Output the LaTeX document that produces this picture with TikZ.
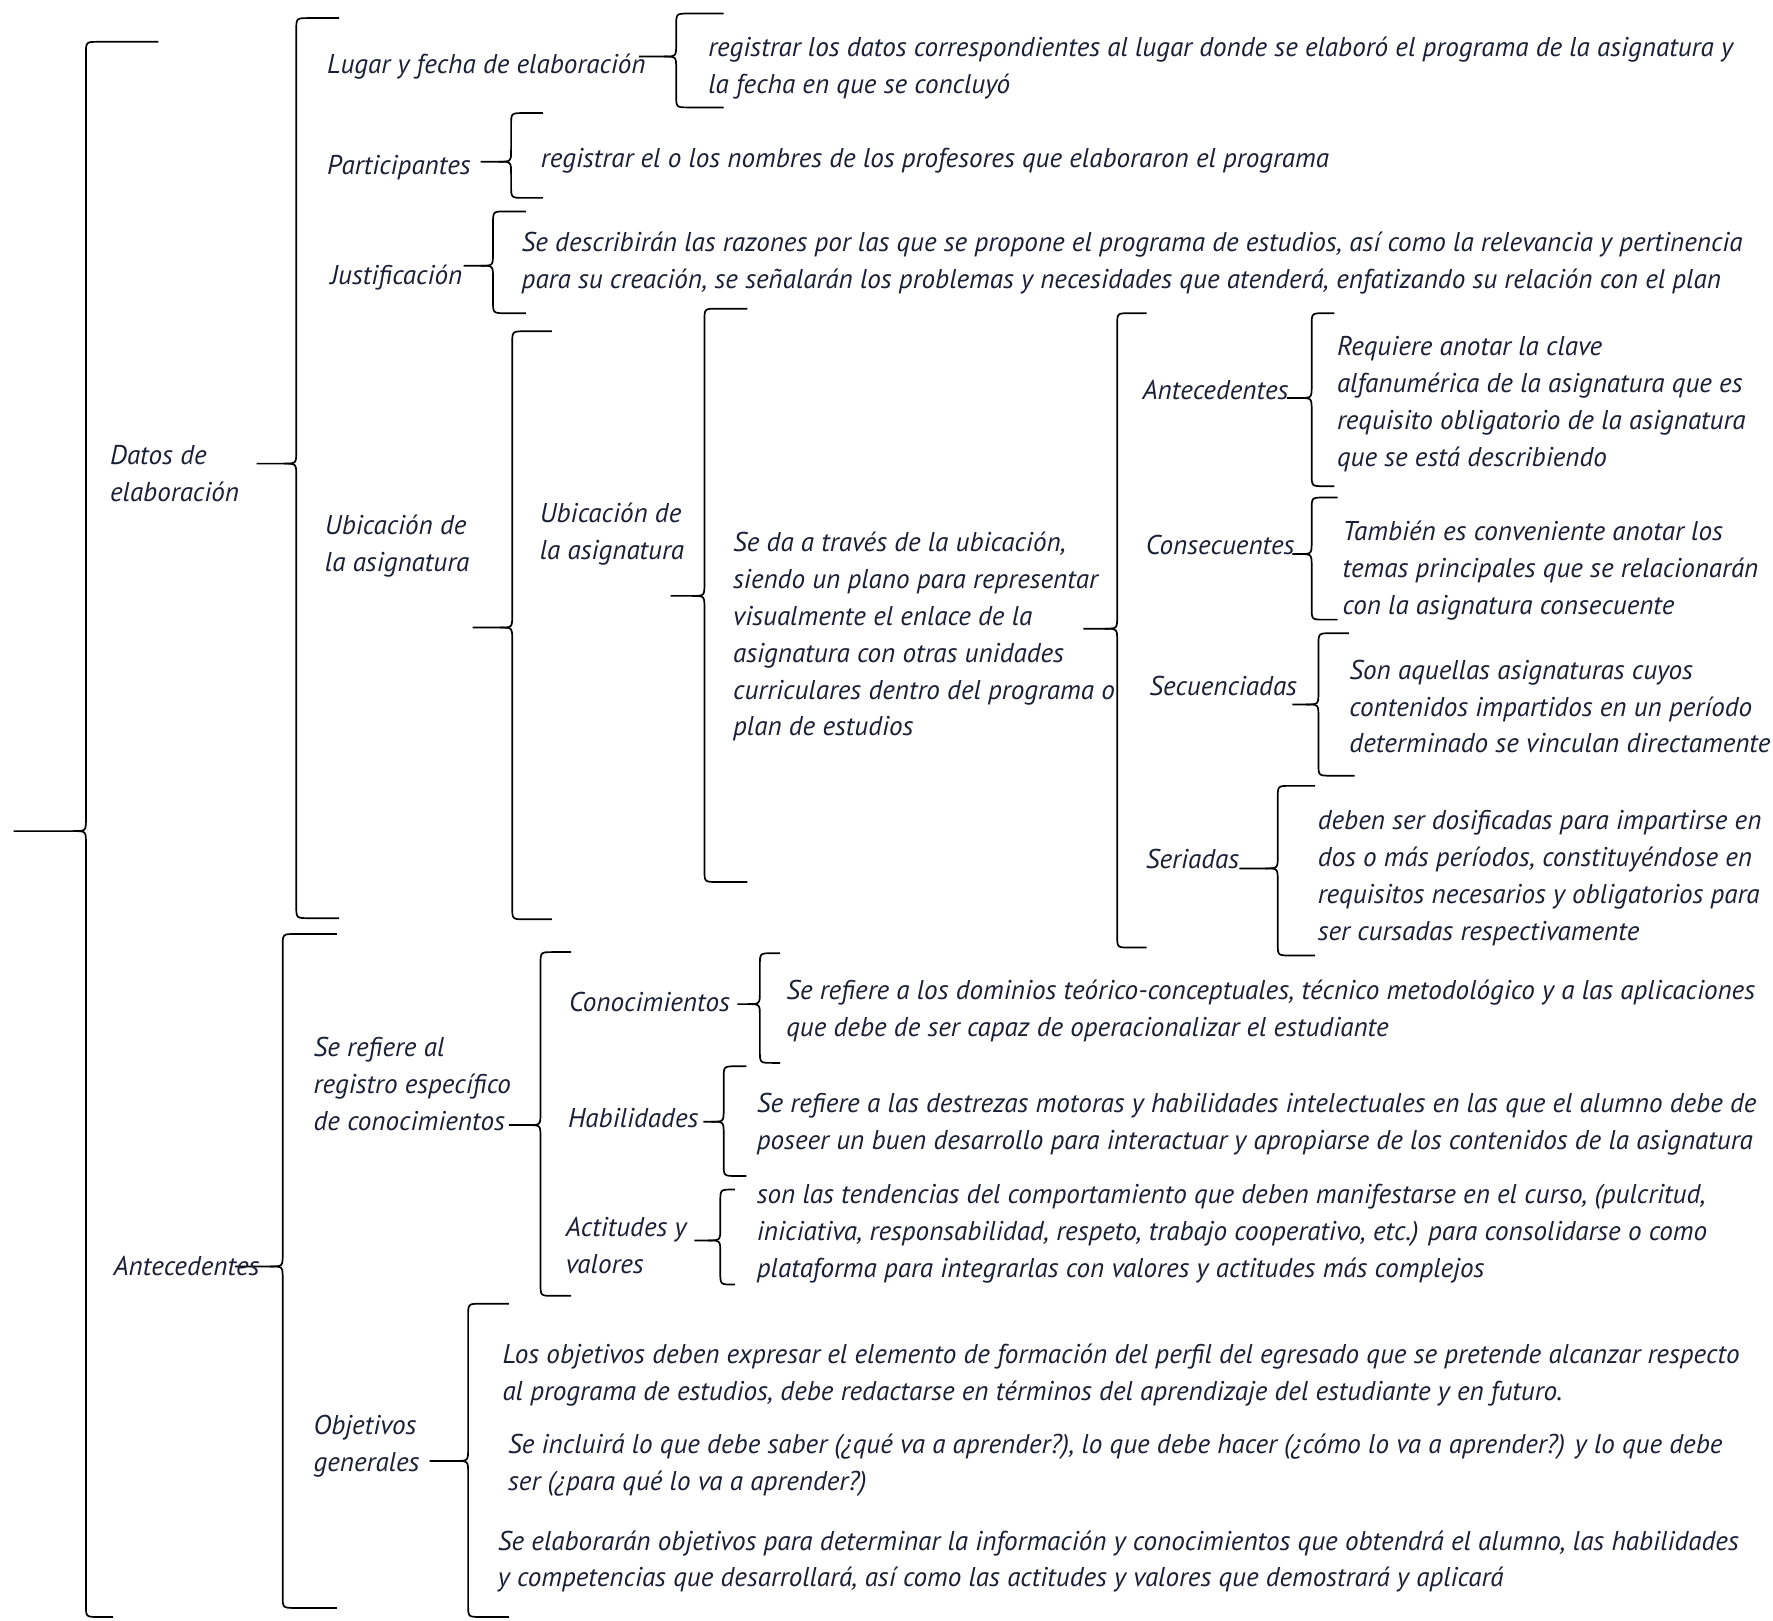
\documentclass[tikz,border=0pt]{standalone}
\usepackage{fontspec}
\setmainfont{PT Sans}
\definecolor{ink}{RGB}{26,32,54}
\newcommand\wbrace[8]{% #1 xv, #2 ytop, #3 ymid, #4 ybot, #5 xtip, #6 top hook x, #7 bottom hook x, #8 name
  \draw[bracestyle] (#6,#2) -- ({#1+11},#2) .. controls (#1,#2) .. (#1,{#2+11}) -- (#1,{#3-11}) .. controls (#1,#3) .. ({#1-11},#3) -- (#5,#3);
  \draw[bracestyle] (#7,#4) -- ({#1+11},#4) .. controls (#1,#4) .. (#1,{#4-11}) -- (#1,{#3+11}) .. controls (#1,#3) .. ({#1-11},#3);
  \coordinate (#8) at (#5,#3);
}
\begin{document}
\begin{tikzpicture}[x=0.5pt,y=-0.5pt,
  bracestyle/.style={draw=black,line width=0.75pt},
  lbl/.style={anchor=north west,yshift=10.41pt,inner sep=0pt,align=left,text=ink,
    font=\fontsize{12pt}{16.3pt}\selectfont\itshape,execute at begin node=\strut},
  ml/.style={yshift=-2.5pt}]
\useasboundingbox (0,0) rectangle (1568,1433);
\fill[white] (0,0) rectangle (1568,1433);

% braces
\wbrace{76}{37}{735}{1430}{12}{140}{100}{tA}
\wbrace{262}{16}{410}{812}{227}{300}{300}{tB}
\wbrace{250}{826}{1120}{1422}{208}{298}{298}{tC}
\wbrace{598}{12}{50}{95}{565}{640}{640}{tD}
\wbrace{452}{100}{143}{175}{425}{480}{480}{tE}
\wbrace{436}{187}{235}{277}{410}{465}{465}{tF}
\wbrace{453}{293}{555}{813}{418}{488}{488}{tG}
\wbrace{623}{273}{527}{780}{593}{661}{661}{tH}
\wbrace{988}{277}{556}{838}{958}{1014}{1014}{tI}
\wbrace{1160}{277}{352}{430}{1138}{1180}{1180}{tJ}
\wbrace{1160}{440}{490}{548}{1143}{1183}{1183}{tK}
\wbrace{1166}{560}{623}{686}{1143}{1193}{1198}{tL}
\wbrace{1130}{695}{768}{845}{1096}{1163}{1163}{tM}
\wbrace{478}{842}{995}{1146}{450}{505}{505}{tN}
\wbrace{672}{843}{888}{940}{652}{690}{690}{tO}
\wbrace{640}{943}{992}{1040}{622}{660}{660}{tP}
\wbrace{637}{1052}{1097}{1136}{614}{650}{650}{tQ}
\wbrace{414}{1153}{1292}{1430}{380}{450}{450}{tR}

% labels
\node[lbl,ml] (datos) at (97,409) {Datos de\\elaboración};
\node[lbl] (antec) at (100,1126) {Antecedentes};
\node[lbl] (lugar) at (289,63) {Lugar y fecha de elaboración};
\node[lbl] (partic) at (289,152) {Participantes};
\node[lbl] (justif) at (292,249) {Justificación};
\node[lbl,ml] (ubic1) at (287,471) {Ubicación de\\la asignatura};
\node[lbl,ml] (ubic2) at (477,460) {Ubicación de\\la asignatura};
\node[lbl] (antec2) at (1010,351) {Antecedentes};
\node[lbl] (consec) at (1013,488) {Consecuentes};
\node[lbl] (secuen) at (1016,613) {Secuenciadas};
\node[lbl] (seriad) at (1013,766) {Seriadas};
\node[lbl,ml] (serefiere) at (277,933) {Se refiere al\\registro específico\\de conocimientos};
\node[lbl] (conoc) at (503,892) {Conocimientos};
\node[lbl] (habil) at (502,995) {Habilidades};
\node[lbl,ml] (actit) at (500,1092) {Actitudes y\\valores};
\node[lbl,ml] (objet) at (277,1267) {Objetivos\\generales};

% texts
\node[lbl,ml] (txD) at (626,48) {registrar los datos correspondientes al lugar donde se elaboró el programa de la asignatura y\\la fecha en que se concluyó};
\node[lbl] (txE) at (478,146) {registrar el o los nombres de los profesores que elaboraron el programa};
\node[lbl,ml] (txF) at (461,221) {Se describirán las razones por las que se propone el programa de estudios, así como la relevancia y pertinencia\\para su creación, se señalarán los problemas y necesidades que atenderá, enfatizando su relación con el plan};
\node[lbl,ml] (txH) at (648,486) {Se da a través de la ubicación,\\siendo un plano para representar\\visualmente el enlace de la\\asignatura con otras unidades\\curriculares dentro del programa o\\plan de estudios};
\node[lbl,ml] (txJ) at (1182,313) {Requiere anotar la clave\\alfanumérica de la asignatura que es\\requisito obligatorio de la asignatura\\que se está describiendo};
\node[lbl,ml] (txK) at (1187,476) {También es conveniente anotar los\\temas principales que se relacionarán\\con la asignatura consecuente};
\node[lbl,ml] (txL) at (1193,599) {Son aquellas asignaturas cuyos\\contenidos impartidos en un período\\determinado se vinculan directamente};
\node[lbl,ml] (txM) at (1165,732) {deben ser dosificadas para impartirse en\\dos o más períodos, constituyéndose en\\requisitos necesarios y obligatorios para\\ser cursadas respectivamente};
\node[lbl,ml] (txO) at (695,882) {Se refiere a los dominios teórico-conceptuales, técnico metodológico y a las aplicaciones\\que debe de ser capaz de operacionalizar el estudiante};
\node[lbl,ml] (txP) at (669,982) {Se refiere a las destrezas motoras y habilidades intelectuales en las que el alumno debe de\\poseer un buen desarrollo para interactuar y apropiarse de los contenidos de la asignatura};
\node[lbl,ml] (txQ) at (669,1063) {son las tendencias del comportamiento que deben manifestarse en el curso, (pulcritud,\\iniciativa, responsabilidad, respeto, trabajo cooperativo, etc.) para consolidarse o como\\plataforma para integrarlas con valores y actitudes más complejos};
\node[lbl,ml] (txR1) at (444,1204) {Los objetivos deben expresar el elemento de formación del perfil del egresado que se pretende alcanzar respecto\\al programa de estudios, debe redactarse en términos del aprendizaje del estudiante y en futuro.};
\node[lbl,ml] (txR2) at (449,1284) {Se incluirá lo que debe saber (¿qué va a aprender?), lo que debe hacer (¿cómo lo va a aprender?) y lo que debe\\ser (¿para qué lo va a aprender?)};
\node[lbl,ml] (txR3) at (440,1369) {Se elaborarán objetivos para determinar la información y conocimientos que obtendrá el alumno, las habilidades\\y competencias que desarrollará, así como las actitudes y valores que demostrará y aplicará};
\end{tikzpicture}
\end{document}
